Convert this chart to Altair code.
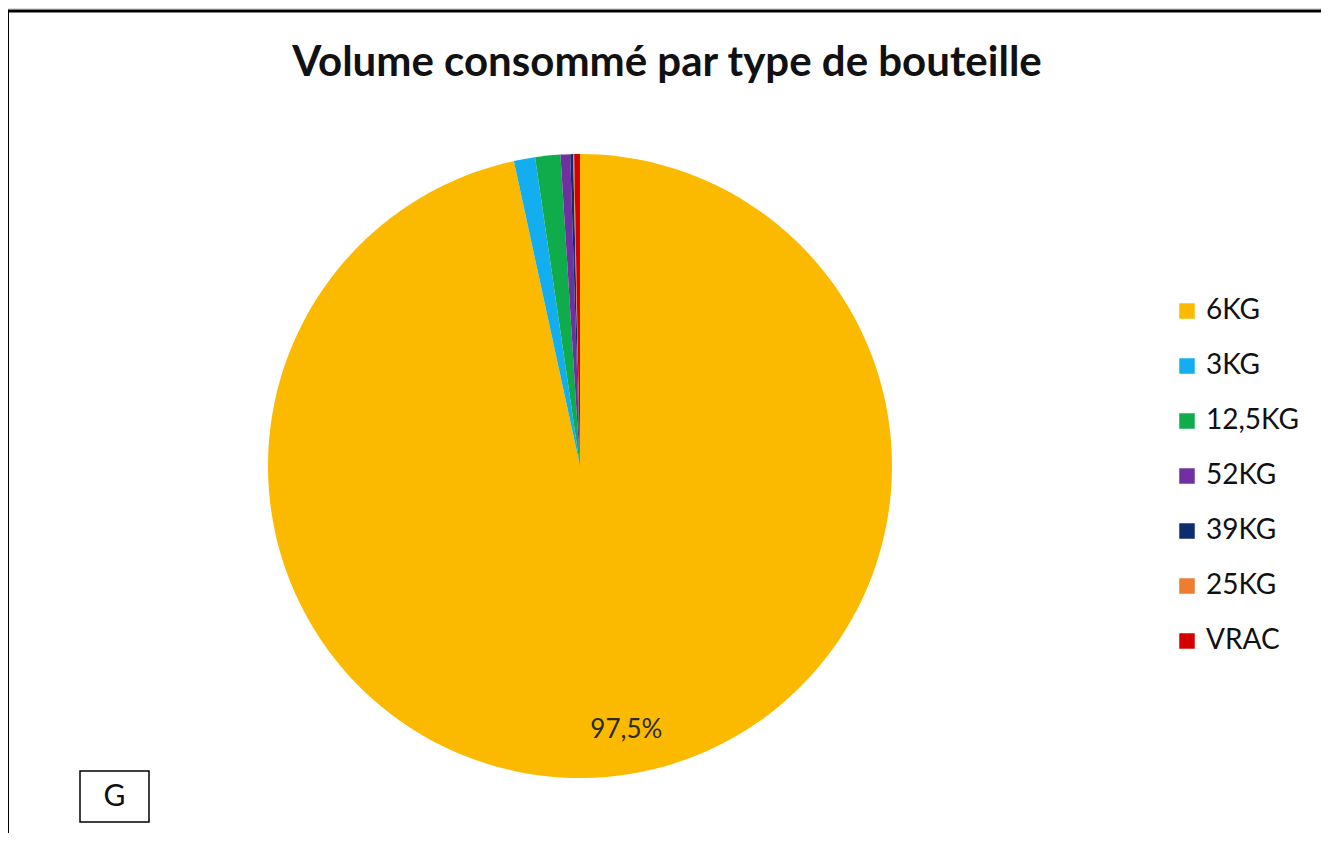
import altair as alt
import pandas as pd

categories = ["6KG", "3KG", "12,5KG", "52KG", "39KG", "25KG", "VRAC"]
values = [96.6, 1.1, 1.3, 0.5, 0.15, 0.05, 0.3]
colors = ["#FBBA00", "#12AEEF", "#10AC4C", "#7030A0", "#0E2D6E", "#ED7D31", "#D40000"]
labels = ["97,5%", "", "", "", "", "", ""]

df = pd.DataFrame({
    "type": categories,
    "value": values,
    "order": list(range(len(categories))),
    "label": labels,
})

W, H = 1313, 825
FONT = "Lato"
CX, CY, R = 572, 458, 312

base = alt.Chart(df).encode(
    theta=alt.Theta("value:Q", stack=True),
    order=alt.Order("order:Q"),
)

pie = base.mark_arc(outerRadius=R, stroke=None).encode(
    x=alt.value(CX),
    y=alt.value(CY),
    color=alt.Color(
        "type:N",
        scale=alt.Scale(domain=categories, range=colors),
        legend=alt.Legend(
            title=None,
            orient="none",
            legendX=1165,
            legendY=289,
            symbolType="square",
            symbolSize=240,
            symbolStrokeWidth=0,
            labelFont=FONT,
            labelFontSize=28,
            labelColor="#111111",
            rowPadding=27,
            labelOffset=5,
            labelLimit=300,
        ),
    ),
)

text = base.mark_text(radius=266, font=FONT, fontSize=26, color="#2b2b2b", dx=18, align="center", baseline="middle").encode(
    x=alt.value(CX),
    y=alt.value(CY),
    text="label:N",
)

title_df = pd.DataFrame({"t": ["Volume consommé par type de bouteille"]})
title = alt.Chart(title_df).mark_text(font=FONT, fontSize=42, fontWeight="bold", color="#111111", align="center", baseline="middle").encode(
    x=alt.value(659), y=alt.value(55), text="t:N"
)

g_df = pd.DataFrame({"t": ["G"]})
gbox = alt.Chart(g_df).mark_rect(fill="white", stroke="black", strokeWidth=1.5).encode(
    x=alt.value(72), x2=alt.value(141), y=alt.value(763), y2=alt.value(814)
)
gtext = alt.Chart(g_df).mark_text(font=FONT, fontSize=30, color="#111111", align="center", baseline="middle").encode(
    x=alt.value(106.5), y=alt.value(789), text="t:N"
)

border_df = pd.DataFrame({"k": [0]})
top = alt.Chart(border_df).mark_rule(color="black", strokeWidth=3).encode(
    x=alt.value(-1), x2=alt.value(1318), y=alt.value(3)
)
left = alt.Chart(border_df).mark_rule(color="black", strokeWidth=2).encode(
    x=alt.value(0), y=alt.value(2), y2=alt.value(840)
)
right = alt.Chart(border_df).mark_rule(color="black", strokeWidth=1.5).encode(
    x=alt.value(1317), y=alt.value(2), y2=alt.value(840)
)

chart = alt.layer(pie, text, title, gbox, gtext, top, left, right).properties(
    width=W, height=H, padding=0, autosize=alt.AutoSizeParams(type="none")
).configure_view(stroke=None).configure(background="white")

chart.save("out.html", embed_options={"renderer": "svg", "actions": False})
